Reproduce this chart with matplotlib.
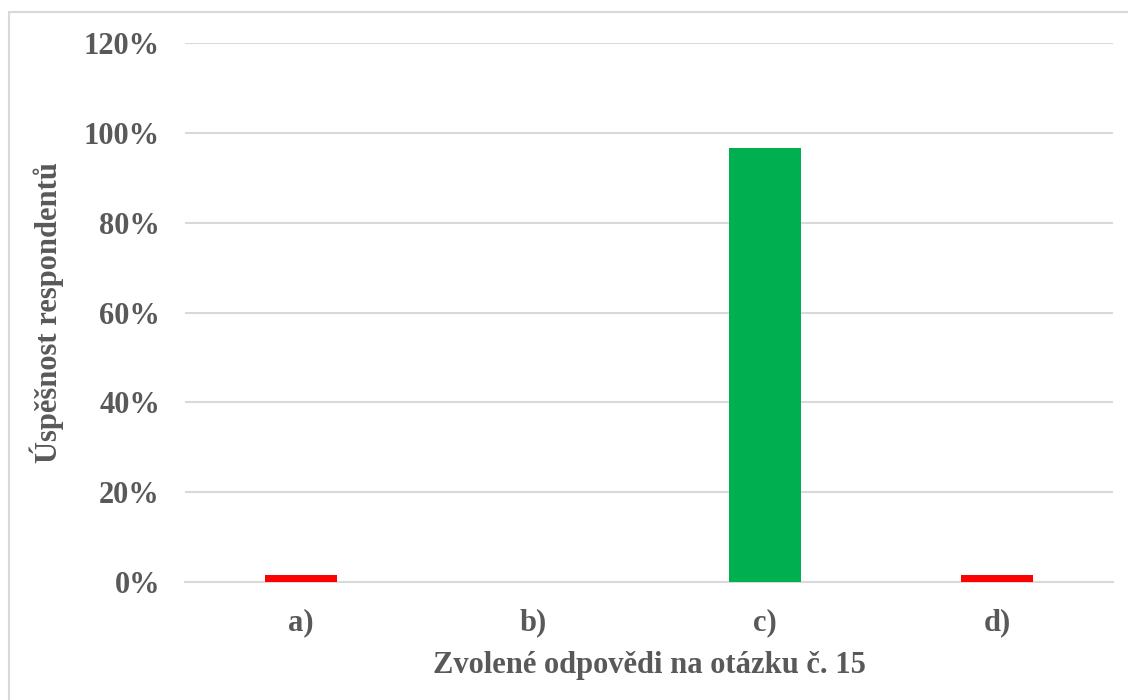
import matplotlib
matplotlib.use("Agg")
import matplotlib.pyplot as plt
from matplotlib.patches import Rectangle
from matplotlib.ticker import FuncFormatter

categories = ["a)", "b)", "c)", "d)"]
values = [0.016, 0.0, 0.967, 0.016]
colors = ["#ff0000", "#ff0000", "#00b050", "#ff0000"]
yticks = [0, 0.2, 0.4, 0.6, 0.8, 1.0, 1.2]

plt.rcParams['font.family'] = ['Liberation Serif', 'DejaVu Serif']
txt = "#595959"

fig = plt.figure(figsize=(11.28, 7.0), dpi=100)
fig.patches.append(Rectangle((9/1128, -0.05), 1.0, 1.05 - 12/700, transform=fig.transFigure,
                             fill=False, edgecolor="#d9d9d9", linewidth=1.5, zorder=0))
ax = fig.add_axes([185/1128, 1 - 582/700, (1113-185)/1128, (582-43)/700])
x = range(len(categories))
ax.bar(x, values, width=0.31, color=colors, zorder=3)
ax.set_xlim(-0.5, 3.5)
ax.set_ylim(0, 1.2)
ax.set_yticks(yticks)
ax.yaxis.set_major_formatter(FuncFormatter(lambda v, p: f"{v*100:.0f}%"))
ax.set_xticks(list(x))
ax.set_xticklabels(categories)
ax.grid(axis='y', color="#d9d9d9", linewidth=1.5, zorder=0)
for s in ['top', 'right', 'left']:
    ax.spines[s].set_visible(False)
ax.spines['bottom'].set_color("#d9d9d9")
ax.spines['bottom'].set_linewidth(1.5)
ax.tick_params(axis='both', length=0, labelsize=22, labelcolor=txt)
ax.tick_params(axis='y', pad=18)
ax.tick_params(axis='x', pad=19)
for lab in ax.get_xticklabels() + ax.get_yticklabels():
    lab.set_fontweight('bold')
ax.set_xlabel("Zvolené odpovědi na otázku č. 15", fontsize=22, fontweight='bold', color=txt, labelpad=10)
ax.set_ylabel("Úspěšnost respondentů", fontsize=22, fontweight='bold', color=txt, labelpad=14)
fig.savefig("out.png", dpi=100, facecolor="white")
